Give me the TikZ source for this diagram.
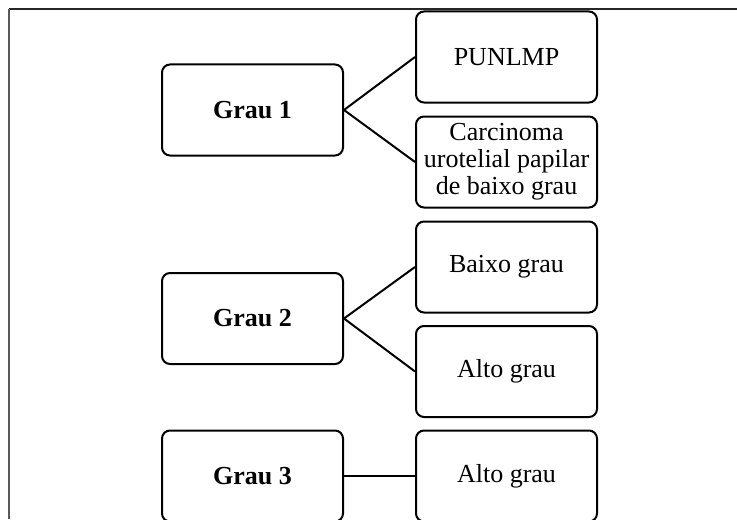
\documentclass[tikz,border=0pt]{standalone}
\usepackage{fontspec}
\setmainfont{Liberation Serif}
\begin{document}
\begin{tikzpicture}[x=0.5pt,y=-0.5pt,
  box/.style={draw=black,line width=1pt,rounded corners=4pt,fill=white,
    minimum width=90.5pt,minimum height=45.5pt,inner sep=1pt,align=center,
    font=\fontsize{13}{13.5}\selectfont},
  gbox/.style={box,font=\fontsize{13}{13.5}\selectfont\bfseries},
  link/.style={line width=1pt,black}]
\useasboundingbox (0,0) rectangle (737,519);
\draw[line width=1pt,black!85] (9,9) -- (737,9);
\draw[line width=1pt,black!65] (9,9) -- (9,519);
\node[gbox] (g1) at (252.5,110) {Grau 1};
\node[gbox] (g2) at (252.5,318.5) {Grau 2};
\node[gbox] (g3) at (252.5,476) {Grau 3};
\node[box] (p) at (506.5,57) {PUNLMP};
\node[box] (c) at (506.5,162) {Carcinoma\\urotelial papilar\\de baixo grau};
\node[box] (b) at (506.5,267) {Baixo grau};
\node[box] (a2) at (506.5,371.5) {Alto grau};
\node[box] (a3) at (506.5,476) {Alto grau};
\draw[link] (g1.east) -- (p.west);
\draw[link] (g1.east) -- (c.west);
\draw[link] (g2.east) -- (b.west);
\draw[link] (g2.east) -- (a2.west);
\draw[link] (g3.east) -- (a3.west);
\end{tikzpicture}
\end{document}
